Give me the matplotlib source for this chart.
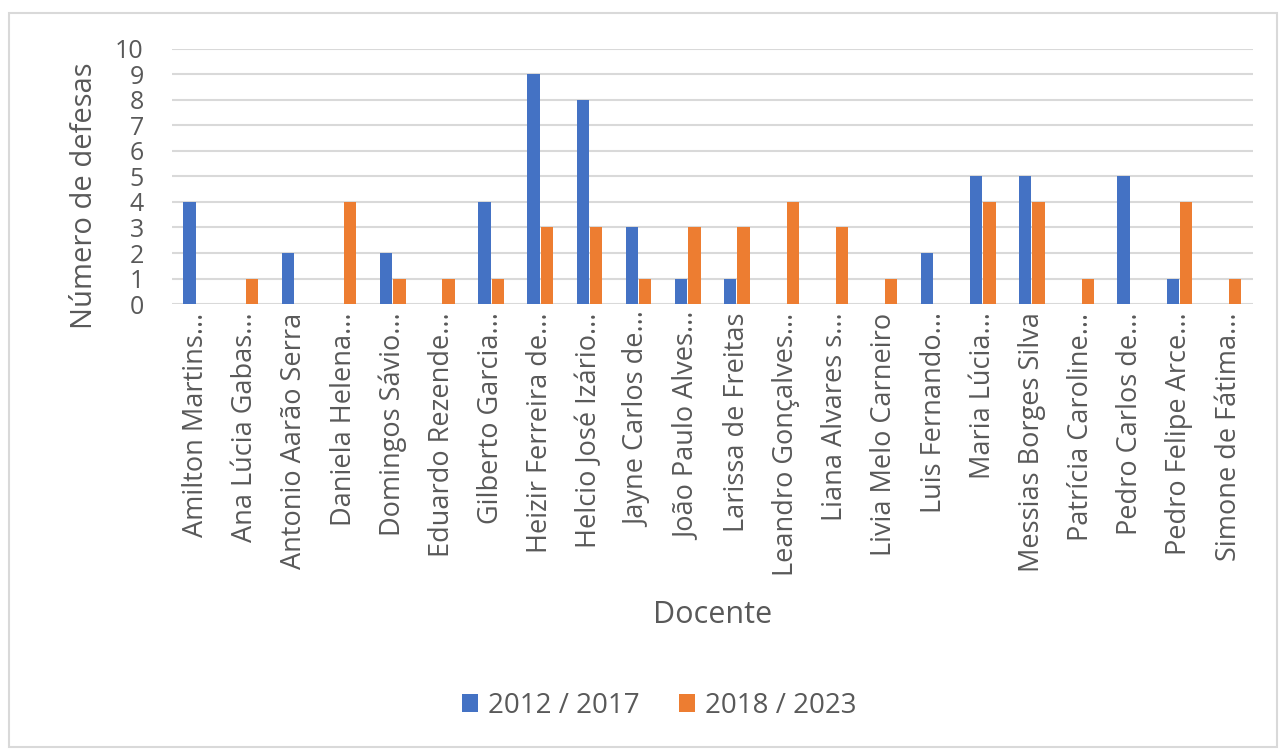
# Gráfico de defesas por docente
import matplotlib.pyplot as plt
import numpy as np
from matplotlib.patches import Rectangle

docentes = [
    "Amilton Martins...", "Ana Lúcia Gabas...", "Antonio Aarão Serra",
    "Daniela Helena...", "Domingos Sávio...", "Eduardo Rezende...",
    "Gilberto Garcia...", "Heizir Ferreira de...", "Helcio José Izário...",
    "Jayne Carlos de...", "João Paulo Alves...", "Larissa de Freitas",
    "Leandro Gonçalves...", "Liana Alvares s...", "Livia Melo Carneiro",
    "Luis Fernando...", "Maria Lúcia...", "Messias Borges Silva",
    "Patrícia Caroline...", "Pedro Carlos de...", "Pedro Felipe Arce...",
    "Simone de Fátima...",
]
periodo_2012_2017 = [4, 0, 2, 0, 2, 0, 4, 9, 8, 3, 1, 1, 0, 0, 0, 2, 5, 5, 0, 5, 1, 0]
periodo_2018_2023 = [0, 1, 0, 4, 1, 1, 1, 3, 3, 1, 3, 3, 4, 3, 1, 0, 4, 4, 1, 0, 4, 1]

plt.rcParams['font.family'] = ['Open Sans', 'DejaVu Sans']
cinza = '#595959'

fig = plt.figure(figsize=(12.8, 7.49), dpi=100)
ax = fig.add_axes([0.134, 0.594, 0.845, 0.341])

# moldura do gráfico
fig.patches.append(Rectangle((0.007, 0.003), 0.991, 0.98, transform=fig.transFigure,
                             fill=False, edgecolor='#d9d9d9', linewidth=1.5))

x = np.arange(len(docentes))
w = 0.25
ax.bar(x - w / 2 - 0.01, periodo_2012_2017, w, color='#4472C4', label='2012 / 2017', zorder=3)
ax.bar(x + w / 2 + 0.01, periodo_2018_2023, w, color='#ED7D31', label='2018 / 2023', zorder=3)

ax.set_xlim(-0.5, len(docentes) - 0.5)
ax.set_ylim(0, 10)
ax.set_yticks(range(0, 11))
ax.yaxis.grid(True, color='#d9d9d9', linewidth=1.5, zorder=0)
ax.set_axisbelow(True)
for s in ax.spines.values():
    s.set_visible(False)

ax.set_xticks(x)
ax.set_xticklabels(docentes, rotation=90, color=cinza)
ax.tick_params(axis='both', length=0, labelcolor=cinza)
ax.tick_params(axis='x', pad=6, labelsize=19.5)
ax.tick_params(axis='y', pad=20, labelsize=18)

# títulos dos eixos
fig.text(85 / 1280, 1 - 196 / 749, 'Número de defesas', fontsize=21, color=cinza,
         rotation=90, ha='center', va='center')
fig.text(713 / 1280, 1 - 615 / 749, 'Docente', fontsize=22, color=cinza,
         ha='center', va='center')

fig.legend(loc='center', bbox_to_anchor=(0.515, 0.058), ncol=2, frameon=False,
           fontsize=20, labelcolor=cinza, handlelength=0.6, handleheight=0.6,
           handletextpad=0.35, columnspacing=1.4)

plt.savefig('out.png', dpi=100)
